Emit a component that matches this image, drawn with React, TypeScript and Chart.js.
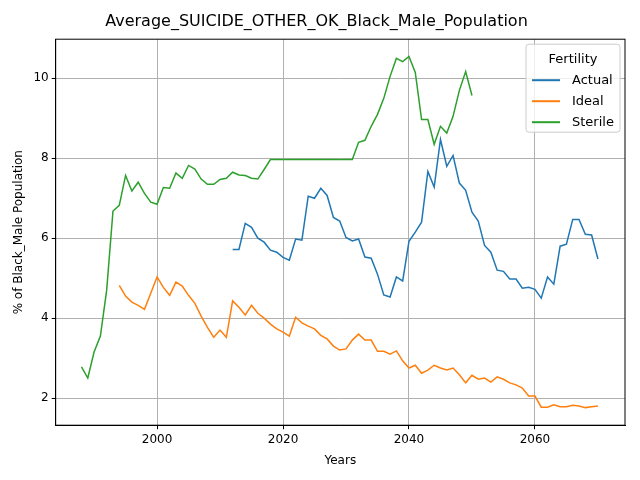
import { useEffect, useRef } from "react"
import { Chart, registerables } from "chart.js"

Chart.register(...registerables)

const sterileStart = 1988
const sterile = [
  2.78, 2.5, 3.15, 3.55, 4.7, 6.68, 6.82, 7.57, 7.18, 7.4,
  7.12, 6.9, 6.85, 7.27, 7.25, 7.63, 7.5, 7.82, 7.73, 7.48,
  7.35, 7.35, 7.47, 7.5, 7.65, 7.58, 7.57, 7.5, 7.48, 7.72,
  7.97, 7.97, 7.97, 7.97, 7.97, 7.97, 7.97, 7.97, 7.97, 7.97,
  7.97, 7.97, 7.97, 7.97,
  8.4, 8.45, 8.8, 9.1, 9.5, 10.05, 10.5, 10.42, 10.55, 10.15,
  8.97, 8.97, 8.35, 8.8, 8.63, 9.05, 9.7, 10.17, 9.57,
]

const idealStart = 1994
const ideal = [
  4.82, 4.55, 4.4, 4.32, 4.22, 4.62, 5.03, 4.77, 4.57, 4.9,
  4.8, 4.57, 4.37, 4.05, 3.77, 3.52, 3.7, 3.52, 4.43, 4.27,
  4.08, 4.32, 4.12, 4.0, 3.85, 3.73, 3.65, 3.55, 4.02, 3.88,
  3.8, 3.73, 3.57, 3.48, 3.3, 3.2, 3.23, 3.45, 3.6, 3.45,
  3.45, 3.17, 3.17, 3.1, 3.18, 2.93, 2.75, 2.82, 2.62, 2.7,
  2.82, 2.75, 2.7, 2.75, 2.58, 2.38, 2.57, 2.47, 2.5, 2.4,
  2.53, 2.47, 2.38, 2.33, 2.25, 2.05, 2.05, 1.77, 1.77, 1.83,
  1.78, 1.78, 1.82, 1.8, 1.76, 1.78, 1.8,
]

const actualStart = 2012
const actual = [
  5.72, 5.72, 6.37, 6.27, 6.0, 5.9, 5.7, 5.65, 5.52, 5.45,
  5.98, 5.95, 7.05, 7.0, 7.25, 7.07, 6.52, 6.43, 6.02, 5.93,
  5.98, 5.53, 5.5, 5.1, 4.58, 4.53, 5.03, 4.93, 5.92, 6.15,
  6.4, 7.67, 7.28, 8.47, 7.8, 8.07, 7.38, 7.2, 6.65, 6.43,
  5.82, 5.65, 5.2, 5.17, 4.98, 4.98, 4.75, 4.77, 4.72, 4.5,
  5.03, 4.85, 5.8, 5.85, 6.47, 6.47, 6.1, 6.08, 5.48,
]

const xTicks = [2000, 2020, 2040, 2060]
const yTicks = [2, 4, 6, 8, 10]

const toPoints = (start: number, vals: number[]) => vals.map((y, i) => ({ x: start + i, y }))

const font = "'DejaVu Sans', sans-serif"

// full frame round the plot area, like matplotlib's spines
const frame = {
  id: "frame",
  afterDatasetsDraw(chart: Chart) {
    const { ctx, chartArea: a } = chart
    ctx.save()
    ctx.strokeStyle = "#000"
    ctx.lineWidth = 1
    ctx.strokeRect(a.left, a.top, a.right - a.left, a.bottom - a.top)
    ctx.restore()
  },
}

// matplotlib-style legend inside the plot, top right
const insideLegend = {
  id: "insideLegend",
  afterDraw(chart: Chart) {
    const { ctx, chartArea } = chart
    const items = chart.data.datasets.map((d) => ({ label: d.label as string, color: d.borderColor as string }))
    const w = 94
    const h = 88
    const x = chartArea.right - w - 5
    const y = chartArea.top + 5
    ctx.save()
    ctx.fillStyle = "rgba(255,255,255,0.8)"
    ctx.strokeStyle = "#cccccc"
    ctx.lineWidth = 1
    ctx.beginPath()
    ctx.roundRect(x, y, w, h, 3)
    ctx.fill()
    ctx.stroke()
    ctx.fillStyle = "#000"
    ctx.font = `13px ${font}`
    ctx.textAlign = "center"
    ctx.textBaseline = "middle"
    ctx.fillText("Fertility", x + w / 2, y + 15)
    ctx.textAlign = "left"
    items.forEach((it, i) => {
      const ly = y + 36 + i * 21
      ctx.strokeStyle = it.color
      ctx.lineWidth = 2
      ctx.beginPath()
      ctx.moveTo(x + 6, ly)
      ctx.lineTo(x + 34, ly)
      ctx.stroke()
      ctx.fillText(it.label, x + 46, ly)
    })
    ctx.restore()
  },
}

export default function App() {
  const chartRef = useRef<HTMLCanvasElement>(null)

  useEffect(() => {
    document.body.style.margin = "0"
    if (!chartRef.current) return
    const chart = new Chart(chartRef.current, {
      type: "line",
      data: {
        datasets: [
          { label: "Actual", data: toPoints(actualStart, actual), borderColor: "#1f77b4" },
          { label: "Ideal", data: toPoints(idealStart, ideal), borderColor: "#ff7f0e" },
          { label: "Sterile", data: toPoints(sterileStart, sterile), borderColor: "#2ca02c" },
        ],
      },
      options: {
        animation: false,
        responsive: false,
        layout: { padding: { left: 8, right: 15, top: 2, bottom: 8 } },
        elements: { point: { radius: 0 }, line: { borderWidth: 1.5, tension: 0 } },
        plugins: {
          legend: { display: false },
          tooltip: { enabled: false },
          title: {
            display: true,
            text: "Average_SUICIDE_OTHER_OK_Black_Male_Population",
            color: "#000",
            font: { family: font, size: 16, weight: "normal" },
            padding: { top: 10, bottom: 8 },
          },
        },
        scales: {
          x: {
            type: "linear",
            min: 1983.9,
            max: 2074.3,
            border: { color: "#000" },
            grid: { color: "#b0b0b0", tickColor: "#000", tickLength: 4 },
            afterBuildTicks: (axis) => {
              axis.ticks = xTicks.map((v) => ({ value: v }))
            },
            ticks: { color: "#000", font: { family: font, size: 12 }, callback: (v) => String(v) },
            title: { display: true, text: "Years", color: "#000", font: { family: font, size: 12 } },
          },
          y: {
            min: 1.32,
            max: 10.98,
            border: { color: "#000" },
            grid: { color: "#b0b0b0", tickColor: "#000", tickLength: 4 },
            afterBuildTicks: (axis) => {
              axis.ticks = yTicks.map((v) => ({ value: v }))
            },
            ticks: { color: "#000", font: { family: font, size: 12 }, callback: (v) => String(v) },
            title: { display: true, text: "% of Black_Male Population", color: "#000", font: { family: font, size: 12 } },
          },
        },
      },
      plugins: [frame, insideLegend],
    })
    return () => chart.destroy()
  }, [])

  return (
    <div style={{ width: 640, height: 480 }}>
      <canvas ref={chartRef} width={640} height={480} />
    </div>
  )
}
